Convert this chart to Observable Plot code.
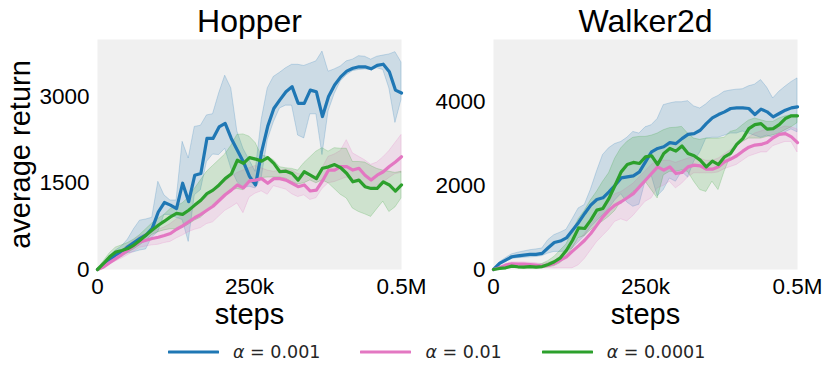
<!DOCTYPE html>
<html>
<head>
<meta charset="utf-8">
<script src="https://cdn.jsdelivr.net/npm/d3@7"></script>
<script src="https://cdn.jsdelivr.net/npm/@observablehq/plot@0.6"></script>
<style>
  html, body { margin: 0; padding: 0; background: #fff; }
  #chart { position: relative; width: 830px; height: 377px; overflow: hidden; background: #fff; }
  #chart .panel { position: absolute; top: 0; }
  #legend { position: absolute; top: 340px; left: 168px; display: flex; align-items: center; font-family: "DejaVu Sans", sans-serif; font-size: 17.5px; color: #262626; height: 24px; }
  #legend .item { display: flex; align-items: center; margin-right: 40px; white-space: nowrap; }
  #legend svg { margin-right: 14px; }
</style>
</head>
<body>
<div id="chart"></div>
<script>
// ---- data ----
const stepsK = [0,10,20,30,40,50,60,70,80,90,100,110,120,130,140,150,160,170,180,190,200,210,220,230,240,250,260,270,280,290,300,310,320,330,340,350,360,370,380,390,400,410,420,430,440,450,460,470,480,490,500];

const seriesLabels = ["α = 0.001", "α = 0.01", "α = 0.0001"];
const seriesNames = ["0.001", "0.01", "0.0001"];
const seriesColors = ["#1f77b4", "#e377c2", "#2ca02c"];

const xTicks = [0, 250000, 500000];
const xTickLabels = ["0", "250k", "0.5M"];

// Hopper
const hopperTicks = [0, 1500, 3000];
const hopperBlue = [0,75,160,250,305,395,470,540,600,715,1000,1165,1120,1060,1500,1180,1640,1670,2280,2280,2480,2540,2280,2075,1870,1620,1470,2050,2490,2800,2950,3090,3180,2890,2890,3120,3090,2660,3010,3210,3350,3450,3500,3525,3525,3490,3550,3570,3440,3120,3070];
const hopperBlueHi = [0,110,220,330,400,520,700,850,870,900,1525,1290,1200,1200,2220,1930,2480,2500,2680,2700,3060,3370,3150,2400,2100,1900,1700,2600,3150,3350,3420,3500,3560,3560,3540,3580,3620,3790,3440,3480,3530,3620,3650,3710,3700,3650,3700,3720,3740,3780,3600];
const hopperBlueLo = [0,40,110,180,220,280,300,330,350,560,650,950,950,900,860,480,1290,1380,1870,2000,1990,2100,1755,1525,1410,1440,1410,1590,2250,2560,2800,2850,2850,2330,2280,2700,2700,1990,2750,3050,3270,3380,3450,3470,3480,3470,3500,3470,3150,2550,2950];
const hopperPink = [0,45,120,190,260,335,410,480,510,540,560,590,625,700,760,830,900,960,1030,1100,1200,1300,1380,1470,1420,1540,1555,1580,1500,1580,1580,1555,1500,1440,1470,1365,1380,1540,1730,1730,1790,1790,1730,1760,1640,1555,1640,1700,1790,1870,1960];
const hopperPinkHi = [0,60,160,250,330,420,500,580,620,650,690,730,790,870,940,1010,1090,1160,1250,1350,1430,1520,1600,1680,1720,1760,1800,1760,1720,1700,1720,1740,1720,1660,1640,1580,1620,1760,1960,2000,2060,2250,2020,1960,1900,1820,1860,1950,2060,2200,2340];
const hopperPinkLo = [0,30,90,140,190,250,310,380,400,420,430,460,480,540,590,650,690,720,790,820,920,1020,1080,1150,980,1250,1320,1360,1300,1450,1420,1390,1310,1260,1290,1210,1240,1400,1500,1520,1560,1600,1560,1530,1450,1390,1460,1510,1590,1660,1680];
const hopperGreen = [0,105,220,305,330,365,425,510,600,685,770,840,915,975,960,1030,1120,1205,1320,1380,1470,1580,1660,1900,1845,1945,1920,1885,1945,1845,1700,1710,1670,1555,1700,1640,1580,1760,1785,1825,1770,1670,1525,1555,1440,1410,1410,1525,1470,1365,1470];
const hopperGreenHi = [0,140,280,380,420,460,520,600,700,800,880,950,1050,1100,1150,1250,1400,1550,1700,1800,1900,2000,2150,2340,2350,2310,2200,1980,1960,1900,1780,1760,1750,1720,1850,1950,2050,2110,2050,2110,2100,2100,1870,1870,1860,1800,1750,1720,1700,1680,1700];
const hopperGreenLo = [0,70,170,240,260,290,350,420,500,600,650,680,700,700,720,780,850,900,1000,1100,1200,1300,1380,1400,1380,1520,1480,1590,1600,1600,1600,1580,1520,1480,1500,1550,1500,1550,1500,1400,1300,1235,1060,1000,960,915,1050,1180,1000,1080,1235];

// Walker2d
const walkerTicks = [0, 2000, 4000];
const walkerBlue = [0,145,225,305,325,345,360,360,385,520,645,680,755,940,1125,1340,1540,1675,1715,1855,2015,2190,2215,2240,2335,2575,2815,2895,2935,3035,3010,3130,3230,3250,3330,3490,3625,3705,3770,3850,3865,3865,3850,3705,3835,3770,3650,3730,3810,3865,3890];
const walkerBlueHi = [0,170,270,360,400,430,460,480,500,700,820,880,950,1200,1460,1540,1900,2335,2735,2900,3000,3050,3150,3290,3250,3400,3450,3600,3930,3970,4000,4000,4025,3900,3850,3950,4080,4150,4250,4280,4300,4310,4380,4420,4530,4350,4090,4250,4370,4480,4570];
const walkerBlueLo = [0,110,180,250,270,280,290,300,320,380,420,420,430,500,650,800,1000,1150,1300,1450,1650,1800,1600,1500,1550,2100,2250,1750,1900,2175,2100,2335,2200,2575,2800,3130,3150,3150,3200,3250,3250,3300,3250,3200,3150,3200,3150,3200,3280,3350,3280];
const walkerPink = [0,40,105,135,130,130,120,105,80,105,145,225,305,440,565,700,860,1060,1260,1420,1540,1620,1715,1815,1975,2135,2295,2455,2375,2455,2295,2320,2455,2495,2480,2400,2400,2455,2575,2640,2720,2830,2925,2975,2990,3035,3150,3230,3250,3170,3035];
const walkerPinkHi = [0,60,130,170,170,170,160,150,130,160,200,300,400,550,700,850,1050,1250,1450,1650,1800,1850,1950,2050,2200,2350,2500,2600,2600,2600,2550,2600,2650,2700,2650,2600,2600,2650,2750,2850,2950,3050,3150,3250,3300,3350,3350,3370,3420,3400,3350];
const walkerPinkLo = [0,20,70,100,90,80,70,50,30,30,25,30,30,30,100,250,450,650,800,950,1140,1200,1150,1280,1450,1620,1700,1940,2000,2100,1940,2050,2200,2300,2300,2300,2300,2320,2400,2450,2500,2600,2700,2750,2800,2800,2950,3000,3050,3050,2800];
const walkerGreen = [0,25,40,80,65,55,70,55,70,120,185,280,460,700,995,980,1180,1420,1460,1700,2015,2335,2510,2560,2535,2695,2720,2510,2775,2895,2830,2955,2775,2720,2615,2455,2590,2510,2695,2775,2990,3130,3370,3465,3490,3355,3370,3465,3610,3675,3675];
const walkerGreenHi = [0,40,70,110,100,90,110,100,130,200,300,450,600,900,1200,1400,1650,1855,2095,2300,2650,2895,3050,3150,3170,3170,3200,3250,3330,3380,3390,3410,3250,3130,3100,3130,3130,3130,3150,3290,3330,3450,3560,3610,3570,3530,3530,3610,3660,3690,3700];
const walkerGreenLo = [0,10,15,40,30,25,30,25,30,50,80,150,300,500,750,800,940,1050,1150,1260,1400,1620,1700,1850,1950,2100,1900,1700,2250,2335,2335,2370,2335,2100,1900,1855,2100,1900,2335,2700,2950,3050,3130,3130,3130,3170,3210,3250,3330,3400,3500];

// ---- build tables ----
function buildRows(triples) {
  const rows = [];
  triples.forEach(([mean, lo, hi], s) => {
    stepsK.forEach((k, i) => {
      rows.push({step: k * 1000, mean: mean[i], lo: lo[i], hi: hi[i], series: seriesNames[s]});
    });
  });
  return rows;
}

const FONT = "'Liberation Sans', Arial, Helvetica, sans-serif";

function panel({title, rows, yDomain, yTicks, marginLeft, marginRight, yLabel}) {
  const marks = [
    Plot.frame({fill: "#f0f0f0", stroke: null}),
    Plot.areaY(rows, {x: "step", y1: "lo", y2: "hi", z: "series", fill: "series", fillOpacity: 0.17, stroke: "series", strokeOpacity: 0.22, strokeWidth: 1}),
    Plot.lineY(rows, {x: "step", y: "mean", z: "series", stroke: "series", strokeWidth: 3.2, strokeLinejoin: "round"}),
    Plot.axisX({ticks: xTicks, tickFormat: (d) => xTickLabels[xTicks.indexOf(d)], tickSize: 0, tickPadding: 9, label: null, fontSize: 22.5, fill: "#000"}),
    Plot.axisY({ticks: yTicks, tickFormat: (d) => String(d), tickSize: 0, tickPadding: 8, label: null, fontSize: 22.5, fill: "#000"}),
    Plot.text([title], {frameAnchor: "top", lineAnchor: "bottom", dy: -8, fontSize: 32, fill: "#000"}),
    Plot.text(["steps"], {frameAnchor: "bottom", lineAnchor: "bottom", dy: 54, fontSize: 29, fill: "#000"})
  ];
  if (yLabel) {
    marks.push(Plot.text([yLabel], {frameAnchor: "left", textAnchor: "middle", lineAnchor: "bottom", rotate: -90, dx: -68, fontSize: 29, fill: "#000"}));
  }
  return Plot.plot({
    width: 415,
    height: 340,
    marginLeft,
    marginRight,
    marginTop: 39,
    marginBottom: 71,
    style: {fontFamily: FONT, fontSize: "22.5px", background: "transparent", color: "#000", overflow: "visible"},
    x: {type: "linear", domain: [0, 500000]},
    y: {type: "linear", domain: yDomain},
    color: {domain: seriesNames, range: seriesColors},
    marks
  });
}

const chart = document.getElementById("chart");

const hopperRows = buildRows([
  [hopperBlue, hopperBlueLo, hopperBlueHi],
  [hopperPink, hopperPinkLo, hopperPinkHi],
  [hopperGreen, hopperGreenLo, hopperGreenHi]
]);
const walkerRows = buildRows([
  [walkerBlue, walkerBlueLo, walkerBlueHi],
  [walkerPink, walkerPinkLo, walkerPinkHi],
  [walkerGreen, walkerGreenLo, walkerGreenHi]
]);

const p1 = panel({title: "Hopper", rows: hopperRows, yDomain: [0, 4000], yTicks: hopperTicks, marginLeft: 97, marginRight: 14, yLabel: "average return"});
p1.classList.add("panel");
p1.style.left = "0px";
chart.appendChild(p1);

const p2 = panel({title: "Walker2d", rows: walkerRows, yDomain: [0, 5500], yTicks: walkerTicks, marginLeft: 78, marginRight: 33});
p2.classList.add("panel");
p2.style.left = "415px";
chart.appendChild(p2);

// ---- legend ----
const legend = document.createElement("div");
legend.id = "legend";
seriesLabels.forEach((lab, i) => {
  const item = document.createElement("div");
  item.className = "item";
  const svg = d3.create("svg").attr("width", 51).attr("height", 10);
  svg.append("line").attr("x1", 1).attr("x2", 50).attr("y1", 5).attr("y2", 5)
    .attr("stroke", seriesColors[i]).attr("stroke-width", 3).attr("stroke-linecap", "round");
  item.appendChild(svg.node());
  const span = document.createElement("span");
  span.innerHTML = "<i>α</i> = " + seriesNames[i];
  item.appendChild(span);
  legend.appendChild(item);
});
chart.appendChild(legend);
</script>
</body>
</html>
